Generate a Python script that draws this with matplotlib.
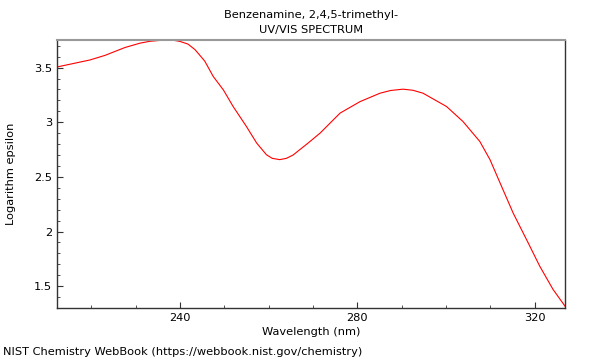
import matplotlib
matplotlib.use("Agg")
import matplotlib.pyplot as plt
from matplotlib.ticker import MultipleLocator

# spectrum
wavelength = [212.3, 219.7, 223.1, 227.6, 231.0, 233.2, 236.6, 238.2, 240.0, 241.8,
              243.4, 245.6, 247.5, 249.8, 252.0, 255.0, 257.3, 259.5, 260.8, 262.5,
              264.0, 265.5, 268.9, 271.6, 276.1, 280.6, 285.1, 287.5, 290.3, 292.5,
              294.8, 300.1, 303.8, 307.6, 309.9, 312.5, 315.1, 318.5, 321.1, 324.1,
              326.8]
log_eps = [3.506, 3.570, 3.612, 3.684, 3.724, 3.741, 3.753, 3.753, 3.740, 3.716,
           3.665, 3.560, 3.420, 3.296, 3.144, 2.961, 2.810, 2.703, 2.670, 2.658,
           2.670, 2.700, 2.810, 2.901, 3.084, 3.189, 3.266, 3.291, 3.303, 3.293,
           3.266, 3.144, 3.007, 2.824, 2.657, 2.413, 2.170, 1.896, 1.683, 1.470,
           1.317]

fig = plt.figure(figsize=(6, 3.6), dpi=100)
ax = fig.add_axes([0.095, 0.1444, 0.8467, 0.7445])
ax.plot(wavelength, log_eps, color="red", linewidth=0.8)

ax.set_xlim(212.3, 326.8)
ax.set_ylim(1.30, 3.753)
ax.set_xticks([240, 280, 320])
ax.set_yticks([1.5, 2, 2.5, 3, 3.5])
ax.set_yticklabels(["1.5", "2", "2.5", "3", "3.5"])
ax.xaxis.set_minor_locator(MultipleLocator(10))
ax.yaxis.set_minor_locator(MultipleLocator(0.1))
ax.tick_params(which="both", direction="in", colors="#333333", labelsize=8.2,
               top=False, right=False, labelcolor="black")
ax.tick_params(which="major", length=4, width=0.8)
ax.tick_params(which="minor", length=2.5, width=0.6)

for side in ["left", "bottom", "right"]:
    ax.spines[side].set_color("#333333")
    ax.spines[side].set_linewidth(1.0)
ax.spines["top"].set_color("#999999")
ax.spines["top"].set_linewidth(1.5)

ax.set_xlabel("Wavelength (nm)", fontsize=8.2, labelpad=3)
ax.set_ylabel("Logarithm epsilon", fontsize=8.2, labelpad=13)
ax.set_title("Benzenamine, 2,4,5-trimethyl-\nUV/VIS SPECTRUM", fontsize=8.2, pad=5,
             linespacing=1.6)
fig.text(0.005, 0.022, "NIST Chemistry WebBook (https://webbook.nist.gov/chemistry)",
         fontsize=8.2, ha="left", va="center")

fig.savefig("out.png", dpi=100)
